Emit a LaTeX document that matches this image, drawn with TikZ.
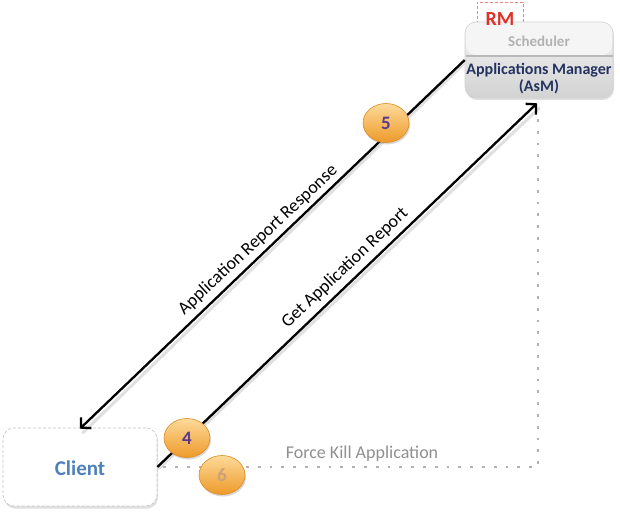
\documentclass[tikz,border=0pt]{standalone}
\usepackage{fontspec}
\setmainfont{Carlito}
\usetikzlibrary{arrows.meta,shadows,shapes.geometric}
\definecolor{navytxt}{HTML}{243360}
\definecolor{clientblue}{HTML}{4F81BD}
\definecolor{rmred}{HTML}{E0302A}
\definecolor{numpurple}{HTML}{5A3A8E}
\definecolor{numtan}{HTML}{C9A27C}
\definecolor{orangetop}{HTML}{FDDA9A}
\definecolor{orangebot}{HTML}{EE9A2A}
\definecolor{orangeedge}{HTML}{DC8C22}
\tikzset{
  rmbox/.style={rounded corners=11pt, minimum width=148pt, minimum height=76pt,
    top color=gray!8, bottom color=gray!35, draw=gray!35, line width=0.6pt,
    drop shadow={shadow xshift=1pt, shadow yshift=-2pt, opacity=0.25}},
  rmlabelbox/.style={draw=rmred!60, densely dashed, line width=0.6pt, fill=white,
    minimum width=46pt, minimum height=29pt},
  clientbox/.style={rounded corners=11pt, minimum width=154pt, minimum height=78pt,
    fill=white, draw=gray!45, densely dashed, line width=0.7pt,
    drop shadow={shadow xshift=1pt, shadow yshift=-2.5pt, opacity=0.25}},
  stepnum/.style={ellipse, minimum width=46pt, minimum height=39pt, inner sep=0pt,
    top color=orangetop, bottom color=orangebot, draw=orangeedge, line width=0.6pt,
    drop shadow={shadow xshift=1pt, shadow yshift=-2pt, opacity=0.3},
    font=\fontsize{19}{22}\selectfont\bfseries},
  msgarrow/.style={line width=2.3pt, black, -{Straight Barb[length=7pt, width=15pt]}},
  msgshadow/.style={line width=3pt, black!12, line cap=round},
  dotline/.style={line width=2.8pt, gray!60, dash pattern=on 2.8pt off 9pt},
  lbl/.style={inner sep=0pt, font=\fontsize{18}{21}\selectfont},
}
\begin{document}
\begin{tikzpicture}[x=1pt,y=-1pt]
\useasboundingbox[fill=white] (0,0) rectangle (620,513);

% RM label frame (behind the box)
\node[rmlabelbox] (rmframe) at (500,17) {};
% RM box
\node[rmbox] (rm) at (539,60) {};
\fill[gray!8, rounded corners=10pt] (466,23) -- (612,23) -- (612,55) -- (466,55) -- cycle;
\draw[gray!55, line width=2.5pt] (465.5,56) -- (612.5,56);
\node[inner sep=0pt, text=gray!60, font=\fontsize{15}{17}\selectfont\bfseries] (sched) at (539,41) {Scheduler};
\node[inner sep=0pt, text=navytxt, align=center, font=\fontsize{16}{17}\selectfont\bfseries] (asm) at (539,79) {Applications Manager\\(AsM)};
\node[inner sep=0pt, text=rmred, font=\fontsize{20}{22}\selectfont\bfseries] (rmtext) at (500,19) {RM};

% Client
\node[clientbox] (client) at (80,467) {};
\node[inner sep=0pt, text=clientblue, font=\fontsize{21}{24}\selectfont\bfseries] (clienttext) at (80,468) {Client};

% dotted Force Kill path
\coordinate (corner) at (538,467);
\draw[dotline] ([xshift=6pt]client.east) -- (corner) -- ([yshift=-10pt]rm.south -| corner);
\node[lbl, text=gray!55!black!60] (forcekill) at (362,454) {Force Kill Application};

% arrows
\draw[msgshadow] ([xshift=1.5pt,yshift=-1.5pt]rm.west) -- ([xshift=3pt,yshift=-5pt]client.north);
\draw[msgarrow] (rm.west) -- ([yshift=-1pt]client.north);
\draw[msgshadow] ([xshift=1.5pt,yshift=-1.5pt]client.east) -- ([xshift=0pt,yshift=-10pt]rm.south);
\draw[msgarrow] (client.east) -- ([xshift=-2pt,yshift=-5pt]rm.south);

\node[lbl, rotate=43] (resp) at (258,240) {Application Report Response};
\node[lbl, rotate=43.5] (getrep) at (345,268) {Get Application Report};

% step markers
\node[stepnum, text=numpurple] (s5) at (386,123) {5};
\node[stepnum, text=numpurple] (s4) at (187,438) {4};
\node[stepnum, text=numtan] (s6) at (222,475) {6};
\end{tikzpicture}
\end{document}
